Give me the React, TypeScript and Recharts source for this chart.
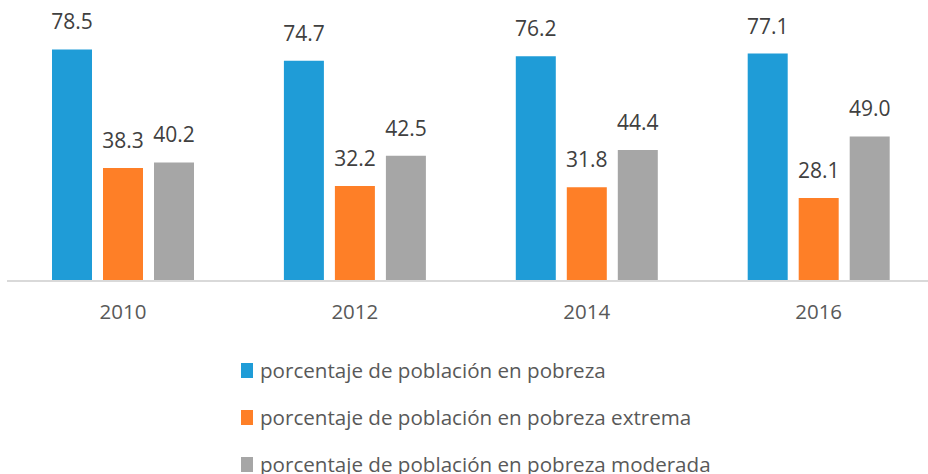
import { Bar, BarChart, LabelList, XAxis, YAxis } from "recharts";

const years = ["2010", "2012", "2014", "2016"];
const pobreza = [78.5, 74.7, 76.2, 77.1];
const pobrezaExtrema = [38.3, 32.2, 31.8, 28.1];
const pobrezaModerada = [40.2, 42.5, 44.4, 49.0];

const series = [
  { key: "pobreza", name: "porcentaje de población en pobreza", color: "#1f9cd7" },
  { key: "extrema", name: "porcentaje de población en pobreza extrema", color: "#fe7f27" },
  { key: "moderada", name: "porcentaje de población en pobreza moderada", color: "#a6a6a6" },
];

const data = years.map((year, i) => ({
  year,
  pobreza: pobreza[i],
  extrema: pobrezaExtrema[i],
  moderada: pobrezaModerada[i],
}));

const font = "'Open Sans', sans-serif";

export default function App() {
  return (
    <div style={{ position: "absolute", left: 0, top: 0, width: 928, height: 474, overflow: "hidden", fontFamily: font, background: "#fff" }}>
      <BarChart
        width={936}
        height={474}
        data={data}
        margin={{ top: 15.5, right: 1.4, left: 7, bottom: 0 }}
        barGap={11}
        barSize={40}
      >
        <XAxis
          dataKey="year"
          axisLine={{ stroke: "#d9d9d9", strokeWidth: 2 }}
          tickLine={false}
          tickSize={0}
          tickMargin={23}
          height={193}
          tick={{ fontSize: 20.5, fill: "#595959", fontFamily: font }}
        />
        <YAxis hide domain={[0, 90]} />
        {series.map((s) => (
          <Bar key={s.key} dataKey={s.key} fill={s.color} isAnimationActive={false}>
            <LabelList
              dataKey={s.key}
              position="top"
              offset={20}
              formatter={(v: number) => v.toFixed(1)}
              style={{ fontSize: 21, fill: "#404040", fontFamily: font }}
            />
          </Bar>
        ))}
      </BarChart>
      {series.map((s, i) => (
        <div
          key={s.key}
          style={{ position: "absolute", left: 241, top: 370 + i * 47 - 14, height: 28, display: "flex", alignItems: "center" }}
        >
          <span style={{ width: 12, height: 15, background: s.color, marginRight: 7 }} />
          <span style={{ fontSize: 20.6, color: "#595959", whiteSpace: "nowrap" }}>{s.name}</span>
        </div>
      ))}
    </div>
  );
}
